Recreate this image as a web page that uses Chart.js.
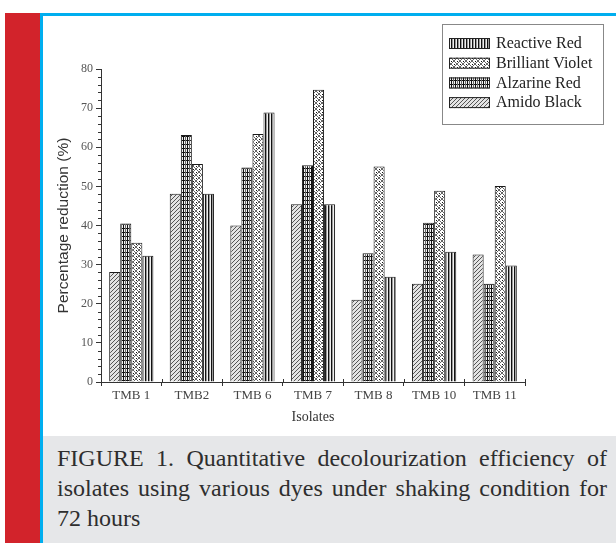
<!DOCTYPE html>
<html>
<head>
<meta charset="utf-8">
<script src="https://cdn.jsdelivr.net/npm/chart.js@4.4.1/dist/chart.umd.min.js"></script>
<style>
    body { margin: 0; background: #fff; width: 616px; height: 543px; overflow: hidden; position: relative; }
    #red-strip { position: absolute; left: 5px; top: 13px; width: 35px; height: 530px; background: #d2232b; }
    #frame { position: absolute; left: 40px; top: 13px; width: 576px; height: 420px; border: 3px solid #00aeef; border-right: none; background: #fff; }
    #chart-box { position: absolute; left: 0; top: 0; width: 573px; height: 417px; }
    #caption {
        position: absolute; left: 40px; top: 436px; width: 590px; height: 107px;
        border-left: 3px solid #00aeef; background: #e6e7e9; box-sizing: border-box;
        padding: 7px 23px 0 14px;
    }
    #caption p {
        margin: 0; width: 550px; font-family: 'Liberation Serif', serif; font-size: 24px;
        line-height: 30px; color: #2e2e2e; text-align: justify;
    }
</style>
</head>
<body>
<div id="red-strip"></div>
<div id="frame">
    <div id="chart-box"><canvas id="chart" width="573" height="417"></canvas></div>
</div>
<div id="caption">
    <p>FIGURE 1. Quantitative decolourization efficiency of isolates using various dyes under shaking condition for 72 hours</p>
</div>
<script>
// Isolates on the x axis
const categories = ['TMB 1', 'TMB2', 'TMB 6', 'TMB 7', 'TMB 8', 'TMB 10', 'TMB 11'];

// Percentage reduction per dye
const amidoBlack = [28.1, 48.1, 40.0, 45.4, 21.0, 25.1, 32.6];
const alzarineRed = [40.5, 63.1, 54.8, 55.4, 32.9, 40.7, 25.1];
const brilliantViolet = [35.6, 55.7, 63.4, 74.7, 55.1, 48.9, 50.1];
const reactiveRed = [32.3, 48.1, 68.9, 45.4, 26.9, 33.3, 29.8];

const yTicks = [0, 10, 20, 30, 40, 50, 60, 70, 80];

const serif = 'Liberation Serif';

// Hatch patterns like the printed figure
function makePattern(kind) {
    const c = document.createElement('canvas');
    const g = c.getContext('2d');
    if (kind === 'diagonal') {
        c.width = c.height = 4;
        g.fillStyle = '#e4e4e4';
        g.fillRect(0, 0, 4, 4);
        g.strokeStyle = '#555';
        g.lineWidth = 1;
        g.beginPath();
        g.moveTo(0, 4); g.lineTo(4, 0);
        g.moveTo(-1, 1); g.lineTo(1, -1);
        g.moveTo(3, 5); g.lineTo(5, 3);
        g.stroke();
    } else if (kind === 'grid') {
        c.width = c.height = 4;
        g.fillStyle = '#f2f2f2';
        g.fillRect(0, 0, 4, 4);
        g.fillStyle = '#111';
        g.fillRect(0, 0, 4, 1);
        g.fillRect(0, 0, 1, 4);
        g.fillStyle = '#666';
        g.fillRect(2, 0, 1, 4);
    } else if (kind === 'cross') {
        c.width = c.height = 6;
        g.fillStyle = '#fff';
        g.fillRect(0, 0, 6, 6);
        g.strokeStyle = '#666';
        g.lineWidth = 1;
        g.beginPath();
        g.moveTo(0, 0); g.lineTo(6, 6);
        g.moveTo(6, 0); g.lineTo(0, 6);
        g.stroke();
        g.fillStyle = '#111';
        g.fillRect(0, 3, 1, 1);
        g.fillRect(3, 0, 1, 1);
    } else {
        c.width = c.height = 3;
        g.fillStyle = '#f0f0f0';
        g.fillRect(0, 0, 3, 3);
        g.fillStyle = '#111';
        g.fillRect(0, 0, 1, 3);
        g.fillStyle = '#999';
        g.fillRect(1, 0, 1, 3);
    }
    return g.createPattern(c, 'repeat');
}

// minor ticks on y axis every 2 units, and the x ticks poking up through the axis
const extraTicks = {
    id: 'extraTicks',
    afterDraw(chart) {
        const y = chart.scales.y;
        const x = chart.scales.x;
        const ctx = chart.ctx;
        ctx.save();
        ctx.strokeStyle = '#333';
        ctx.lineWidth = 1;
        ctx.beginPath();
        for (let v = 2; v < 80; v += 2) {
            if (v % 10 === 0) continue;
            const py = Math.round(y.getPixelForValue(v)) + 0.5;
            ctx.moveTo(y.right - 3, py);
            ctx.lineTo(y.right, py);
        }
        const step = x.getPixelForValue(1) - x.getPixelForValue(0);
        for (let i = 0; i <= categories.length; i++) {
            const px = Math.round(x.getPixelForValue(i) - step / 2) + 0.5;
            ctx.moveTo(px, x.top);
            ctx.lineTo(px, x.top - 3);
        }
        ctx.stroke();
        ctx.restore();
    }
};

// boxed legend, same placement as the figure
const boxLegend = {
    id: 'boxLegend',
    afterDraw(chart) {
        const ctx = chart.ctx;
        const items = chart.data.datasets.slice().reverse();
        ctx.save();
        ctx.strokeStyle = '#888';
        ctx.lineWidth = 1;
        ctx.strokeRect(399.5, 8.5, 161, 100);
        ctx.font = Chart.helpers.toFont({ family: serif, size: 16 }).string;
        ctx.textBaseline = 'middle';
        items.forEach((ds, i) => {
            const cy = 27 + i * 19.7;
            ctx.fillStyle = ds.backgroundColor;
            ctx.fillRect(406, cy - 5, 41, 11);
            ctx.strokeStyle = '#222';
            ctx.strokeRect(406.5, cy - 4.5, 40, 10);
            ctx.fillStyle = '#222';
            ctx.fillText(ds.label, 453, cy + 1);
        });
        ctx.restore();
    }
};

new Chart(document.getElementById('chart').getContext('2d'), {
    type: 'bar',
    data: {
        labels: categories,
        datasets: [
            { label: 'Amido Black', data: amidoBlack, backgroundColor: makePattern('diagonal') },
            { label: 'Alzarine Red', data: alzarineRed, backgroundColor: makePattern('grid') },
            { label: 'Brilliant Violet', data: brilliantViolet, backgroundColor: makePattern('cross') },
            { label: 'Reactive Red', data: reactiveRed, backgroundColor: makePattern('vertical') }
        ].map(ds => Object.assign(ds, {
            borderColor: '#1a1a1a',
            borderWidth: 1,
            categoryPercentage: 0.73,
            barPercentage: 1.0
        }))
    },
    options: {
        responsive: false,
        animation: false,
        layout: { padding: { top: 53, right: 91, left: 0, bottom: 0 } },
        plugins: {
            legend: { display: false },
            tooltip: { enabled: false }
        },
        scales: {
            x: {
                afterFit(scale) { scale.height = 51; },
                grid: { display: true, drawOnChartArea: false, offset: true, tickLength: 4, color: '#333' },
                border: { color: '#333', width: 1 },
                ticks: { color: '#444', padding: 2, font: { family: serif, size: 13 } },
                title: { display: true, text: 'Isolates', color: '#333', padding: { bottom: 7 }, font: { family: serif, size: 14 } }
            },
            y: {
                min: 0,
                max: 80,
                afterFit(scale) { scale.width = 58; },
                afterBuildTicks(scale) { scale.ticks = yTicks.map(v => ({ value: v })); },
                grid: { display: true, drawOnChartArea: false, tickLength: 5, color: '#333' },
                border: { color: '#333', width: 1 },
                ticks: { color: '#555', padding: 3, font: { family: serif, size: 12 } },
                title: { display: true, text: 'Percentage reduction (%)', color: '#333', padding: { top: 11 }, font: { family: 'Liberation Sans', size: 15.5 } }
            }
        }
    },
    plugins: [extraTicks, boxLegend]
});
</script>
</body>
</html>
